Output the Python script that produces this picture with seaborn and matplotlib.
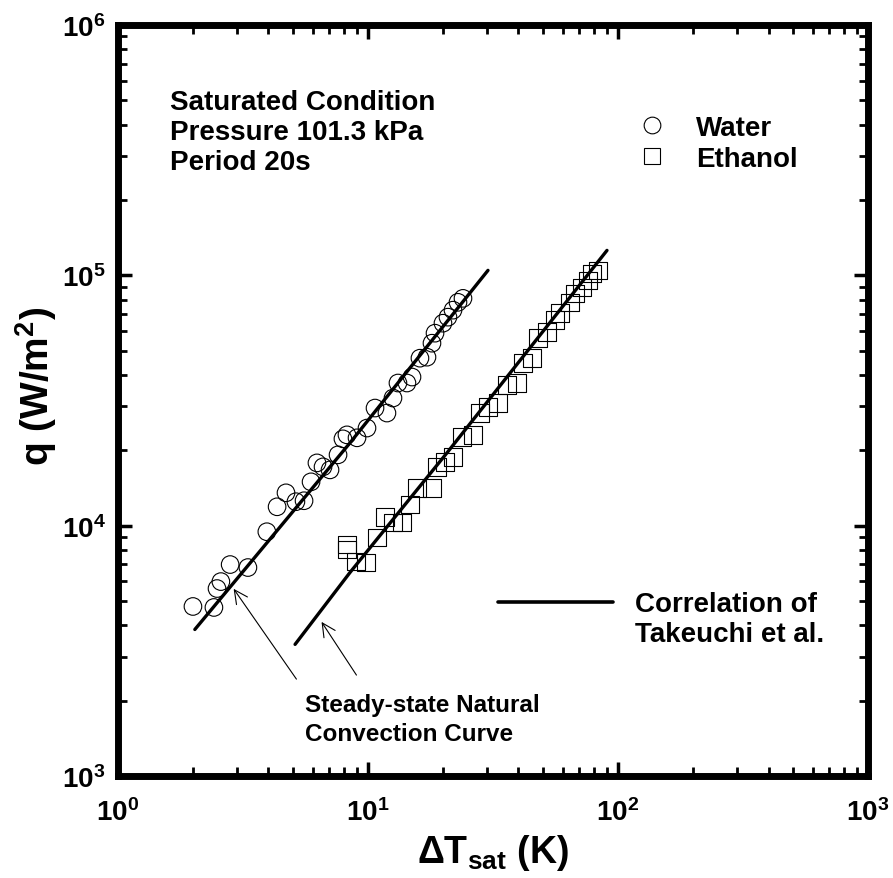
import numpy as np
import pandas as pd
import matplotlib
matplotlib.use("Agg")
import matplotlib.pyplot as plt
from matplotlib.lines import Line2D
from matplotlib.ticker import LogLocator, NullFormatter, FixedLocator
import seaborn as sns

# ---------------- data ----------------
water_dT = [1.995, 2.42, 2.49, 2.58, 2.81, 3.31, 3.94, 4.33, 4.70, 5.15, 5.55, 5.92,
            6.25, 6.61, 7.05, 7.59, 7.94, 8.24, 9.04, 9.91, 10.67, 11.91, 12.59,
            13.18, 14.32, 15.0, 16.14, 17.22, 18.03, 18.54, 19.95, 20.89, 21.88,
            22.91, 23.99]
water_q = [4757, 4714, 5610, 5980, 6995, 6805, 9460, 11900, 13530, 12470, 12580,
           14970, 17820, 17180, 16710, 19190, 22230, 23060, 22440, 24550, 29510,
           28180, 32360, 37150, 37150, 39250, 46680, 47110, 53580, 58750, 64400,
           68080, 72610, 78040, 80940]

ethanol_dT = [8.24, 8.24, 8.95, 9.82, 10.86, 11.69, 12.59, 13.68, 14.72, 15.70, 18.03,
              18.88, 20.32, 21.88, 23.77, 26.30, 28.05, 30.20, 33.11, 35.97, 39.45,
              41.69, 45.29, 47.86, 52.00, 55.98, 58.61, 64.27, 67.30, 71.78, 75.86,
              78.70, 83.18]
ethanol_q = [8400, 8020, 7190, 7120, 8960, 10860, 10280, 10280, 12130, 14160, 14160,
             17180, 17990, 18830, 22630, 23060, 28180, 29790, 30900, 36480, 37150,
             44570, 46680, 56100, 59290, 66220, 70630, 78040, 84750, 89540, 95500,
             101860, 104710]

# Correlation of Takeuchi et al.
corr_water_dT = [2.03, 8.47, 30.2]
corr_water_q = [3850, 21410, 104700]
corr_eth_dT = [5.11, 8.47, 20.70, 90.36]
corr_eth_q = [3357, 6500, 19540, 125800]

tick_vals = [1, 10, 100, 1000]
x_tick_labels = [r"$\mathbf{10^{0}}$", r"$\mathbf{10^{1}}$", r"$\mathbf{10^{2}}$", r"$\mathbf{10^{3}}$"]
y_tick_vals = [1e3, 1e4, 1e5, 1e6]
y_tick_labels = [r"$\mathbf{10^{3}}$", r"$\mathbf{10^{4}}$", r"$\mathbf{10^{5}}$", r"$\mathbf{10^{6}}$"]
minor_mult = [2, 3, 4, 5, 6, 7, 8, 9]

# ---------------- style ----------------
sns.set_theme(style="white")
plt.rcParams["font.family"] = ["Liberation Sans", "DejaVu Sans"]
plt.rcParams["font.weight"] = "bold"
plt.rcParams["text.color"] = "black"
plt.rcParams["axes.labelcolor"] = "black"
plt.rcParams["xtick.color"] = "black"
plt.rcParams["ytick.color"] = "black"
plt.rcParams["xtick.minor.visible"] = True
plt.rcParams["ytick.minor.visible"] = True
plt.rcParams["mathtext.fontset"] = "custom"
plt.rcParams["mathtext.rm"] = "Liberation Sans:bold"
plt.rcParams["mathtext.it"] = "Liberation Sans:bold"
plt.rcParams["mathtext.bf"] = "Liberation Sans:bold"
plt.rcParams["mathtext.sf"] = "Liberation Sans:bold"
plt.rcParams["mathtext.default"] = "bf"

fig = plt.figure(figsize=(8.93, 8.79), dpi=100)
ax = fig.add_axes([0.1321, 0.116, 0.8399, 0.8544])

wdf = pd.DataFrame({"dT": water_dT, "q": water_q})
edf = pd.DataFrame({"dT": ethanol_dT, "q": ethanol_q})

sns.scatterplot(data=wdf, x="dT", y="q", marker="o", s=160, facecolor="none",
                edgecolor="black", linewidth=0.8, ax=ax, legend=False, zorder=3)
sns.scatterplot(data=edf, x="dT", y="q", marker="s", s=160, facecolor="none",
                edgecolor="black", linewidth=0.8, ax=ax, legend=False, zorder=3)

sns.lineplot(x=corr_water_dT, y=corr_water_q, color="black", lw=2.4, ax=ax,
             sort=False, estimator=None, zorder=4)
sns.lineplot(x=corr_eth_dT, y=corr_eth_q, color="black", lw=2.4, ax=ax,
             sort=False, estimator=None, zorder=4)

ax.set_xscale("log")
ax.set_yscale("log")
ax.set_xlim(1, 1000)
ax.set_ylim(1e3, 1e6)
ax.xaxis.set_major_locator(FixedLocator(tick_vals))
ax.set_xticklabels(x_tick_labels)
ax.yaxis.set_major_locator(FixedLocator(y_tick_vals))
ax.set_yticklabels(y_tick_labels)
x_minor = [m * d for d in tick_vals[:-1] for m in minor_mult]
y_minor = [m * d for d in y_tick_vals[:-1] for m in minor_mult]
ax.xaxis.set_minor_locator(FixedLocator(x_minor))
ax.yaxis.set_minor_locator(FixedLocator(y_minor))
ax.xaxis.set_minor_formatter(NullFormatter())
ax.yaxis.set_minor_formatter(NullFormatter())

for sp in ax.spines.values():
    sp.set_linewidth(5)
    sp.set_color("black")
ax.tick_params(which="both", direction="in", top=True, right=True, bottom=True,
               left=True, colors="black")
ax.tick_params(which="major", length=10, width=2.5, labelsize=20)
ax.tick_params(which="minor", length=6.5, width=2)
ax.tick_params(axis="x", which="major", pad=16)
ax.tick_params(axis="y", which="major", pad=9)

ax.set_xlabel(r"$\Delta$T$_{\mathbf{sat}}$ (K)", fontsize=27, fontweight="bold", labelpad=4)
ax.set_ylabel(r"q (W/m$^{\mathbf{2}}$)", fontsize=28, fontweight="bold")
ax.yaxis.set_label_coords(-0.078, 0.52)

# texts
ax.text(0.069, 0.915, "Saturated Condition\nPressure 101.3 kPa\nPeriod 20s",
        transform=ax.transAxes, ha="left", va="top", fontsize=20, fontweight="bold",
        linespacing=1.2)

ax.text(0.690, 0.247, "Correlation of\nTakeuchi et al.", transform=ax.transAxes,
        ha="left", va="top", fontsize=20, fontweight="bold", linespacing=1.2)
ax.add_line(Line2D([0.507, 0.660], [0.232, 0.232], transform=ax.transAxes,
                   color="black", lw=2.6))

ax.text(0.249, 0.110, "Steady-state Natural\nConvection Curve", transform=ax.transAxes,
        ha="left", va="top", fontsize=17.5, fontweight="bold", linespacing=1.3)

arrow_kw = dict(arrowstyle="->", lw=0.8, color="black", mutation_scale=24)
ax.annotate("", xy=(2.86, 5715), xytext=(5.25, 2388), arrowprops=arrow_kw)
ax.annotate("", xy=(6.43, 4217), xytext=(9.12, 2477), arrowprops=arrow_kw)

# legend
handles = [Line2D([], [], ls="", marker="o", ms=12, mfc="none", mec="black", mew=0.8),
           Line2D([], [], ls="", marker="s", ms=12, mfc="none", mec="black", mew=0.8)]
ax.legend(handles, ["Water", "Ethanol"], loc="upper left", bbox_to_anchor=(0.693, 0.880),
          frameon=False, handlelength=1.0, handletextpad=1.1,
          borderpad=0, borderaxespad=0, labelspacing=0.17, prop={"weight": "bold", "size": 20})

fig.savefig("out.png", dpi=100, facecolor="white")
